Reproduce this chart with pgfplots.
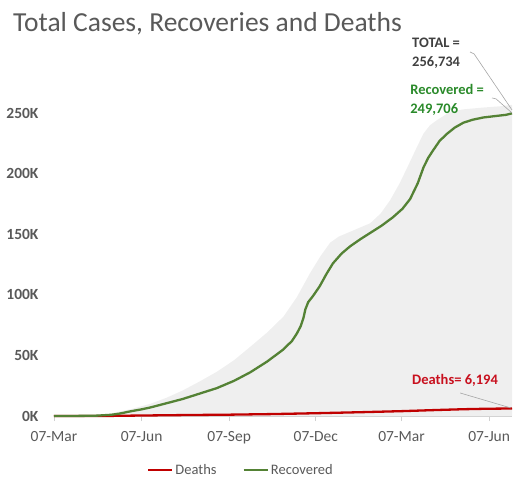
\documentclass[border=0pt]{standalone}
\usepackage{pgfplots}
\pgfplotsset{compat=1.18}
\usepackage{fontspec}
\setmainfont{Carlito}
\definecolor{txtgray}{HTML}{595959}
\definecolor{darkgray}{HTML}{404040}
\definecolor{axgray}{HTML}{D0D0D0}
\definecolor{areagray}{HTML}{EFEFEF}
\definecolor{recgreen}{HTML}{548235}
\definecolor{labgreen}{HTML}{2A8A2A}
\definecolor{dred}{HTML}{C00000}
\definecolor{labred}{HTML}{C8101E}
\definecolor{leader}{HTML}{A6A6A6}
\begin{document}
\begin{tikzpicture}[x=1pt,y=1pt]
\useasboundingbox (-54,-61) rectangle (459,416);
\node[anchor=base west, font=\fontsize{27.5}{31}\selectfont, text=txtgray, inner sep=0] at (-41,384) {Total Cases, Recoveries and Deaths};
\begin{axis}[
  scale only axis, width=458pt, height=321.2pt,
  xmin=0, xmax=481, ymin=0, ymax=265,
  axis x line*=bottom, axis y line*=left,
  x axis line style={draw=axgray, line width=0.75pt},
  y axis line style={draw=none},
  xtick={0,92,184,275,365,457},
  xticklabels={07-Mar,07-Jun,07-Sep,07-Dec,07-Mar,07-Jun},
  xtick style={draw=axgray, line width=0.75pt},
  tick align=outside, major tick length=5pt,
  x tick label style={font=\fontsize{15.5}{18}\selectfont, text=txtgray, yshift=-7pt},
  ytick={0,50,100,150,200,250},
  yticklabels={0K,50K,100K,150K,200K,250K},
  ytick style={draw=none},
  y tick label style={font=\bfseries\fontsize{15.5}{18}\selectfont, text=txtgray, xshift=-7pt},
  clip=false,
  legend style={at={(0.408,-0.168)}, anchor=center, draw=none, fill=none, legend columns=2,
    font=\fontsize{14.5}{17}\selectfont, text=txtgray,
    /tikz/every even column/.append style={column sep=24pt}},
  legend image code/.code={\draw[#1, line width=2.4pt] (0pt,0pt) -- (24pt,0pt);},
]
% Total cases (area)
\addplot[fill=areagray, draw=none, forget plot] table {
x y
0 0
45 0.4
59 2
80 5.5
101 10
118 15
135 21
153 28.5
171 36.5
189 46
206 57
224 69
241 82
255 98
269 118
280 132
290 143
299 148
308 151
320 155
332 159
343 167
353 178
363 192
371 205
380 220
388 233
395 240
402 244
416 251
430 253
451 254.5
470 255.6
481 256.734
} \closedcycle;
% Deaths
\addplot[dred, line width=2.3pt] table {
x y
0 0
40 0.02
60 0.1
92 0.4
140 0.8
184 1.1
230 1.6
275 2.3
320 3.1
365 4.0
400 4.9
430 5.6
455 6.0
481 6.194
};
\addlegendentry{Deaths}
% Recovered
\addplot[recgreen, line width=2.3pt] table {
x y
0 0
30 0.1
45 0.3
60 1.0
69 2
80 3.8
92 5.5
101 7
118 10.5
135 14
153 18.5
171 23
189 29
206 36
224 45
241 55
250 62
255 68
259 74
262 81
264 88
267 94
272 99
279 107
286 117
293 126
302 134
311 140
322 146
332 151
344 157
356 164
366 171
374 179
382 192
388 205
393 213
398 219
405 227
413 233
421 238
430 242
440 244.5
451 246.3
465 247.6
475 248.5
481 249.706
};
\addlegendentry{Recovered}
% annotations
\draw[leader, line width=0.6pt] (axis cs:437,300.3) -- (axis cs:441.2,298.7) -- (axis cs:481,252.5);
\draw[leader, line width=0.6pt] (axis cs:460,262.4) -- (axis cs:464.3,261.6) -- (axis cs:481,250);
\draw[leader, line width=0.6pt] (axis cs:426.5,19) -- (axis cs:480,6.6);
\node[anchor=north west, inner sep=0, align=left, text=darkgray,
  font=\bfseries\fontsize{14.5}{19}\selectfont] at (axis cs:376,311.9) {TOTAL =\\256,734};
\node[anchor=north west, inner sep=0, align=left, text=labgreen,
  font=\bfseries\fontsize{14.5}{19}\selectfont] at (axis cs:374,274) {Recovered =\\249,706};
\node[anchor=west, inner sep=0, text=labred,
  font=\bfseries\fontsize{14.5}{17}\selectfont] at (axis cs:376,29.7) {Deaths= 6,194};
\end{axis}
\end{tikzpicture}
\end{document}
